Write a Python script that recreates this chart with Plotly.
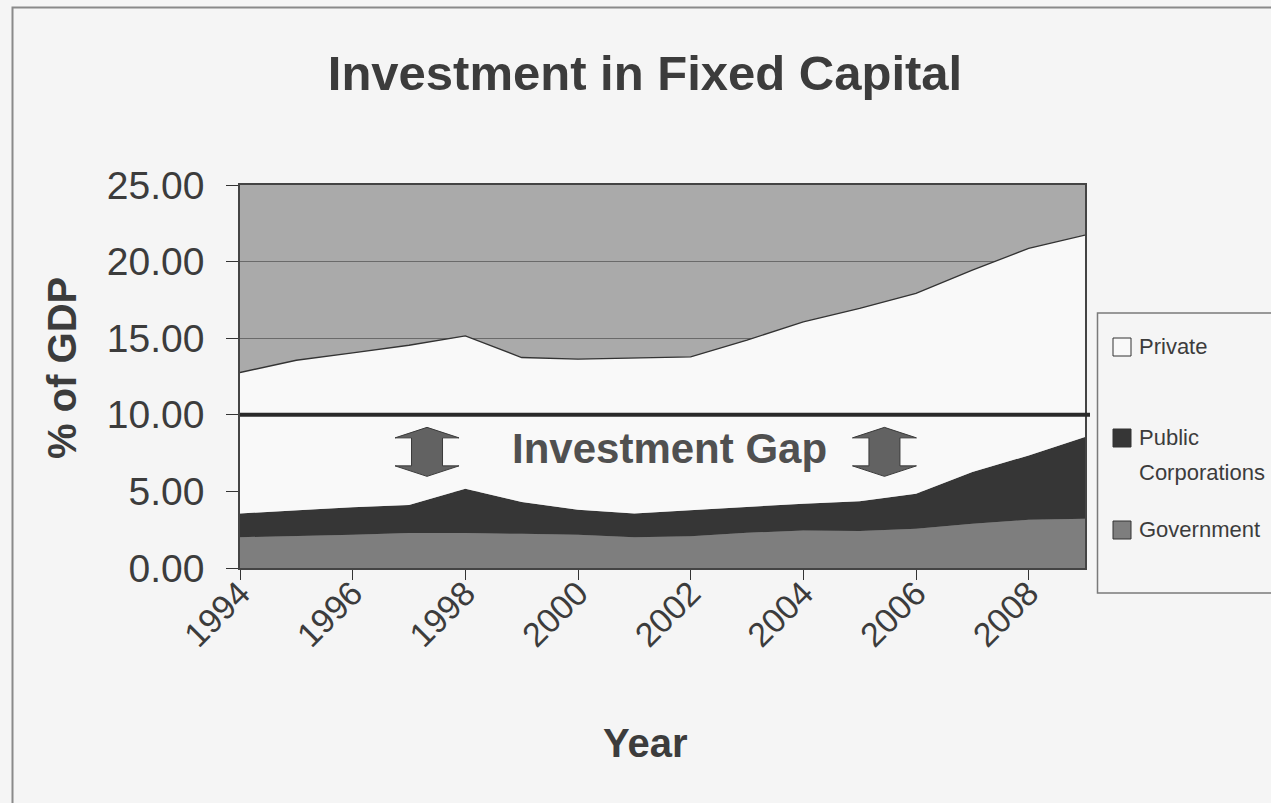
import plotly.graph_objects as go

# Investment in fixed capital, % of GDP, by sector
years = list(range(1994, 2010))
government = [2.01, 2.08, 2.17, 2.28, 2.28, 2.23, 2.17, 2.01, 2.08, 2.30, 2.45, 2.41, 2.56, 2.89, 3.15, 3.21]
public_corporations = [1.55, 1.68, 1.80, 1.84, 2.90, 2.07, 1.63, 1.55, 1.70, 1.70, 1.75, 1.94, 2.29, 3.37, 4.20, 5.34]
private = [9.20, 9.80, 10.07, 10.42, 9.97, 9.44, 9.83, 10.15, 10.00, 10.87, 11.87, 12.59, 13.07, 13.18, 13.51, 13.18]

tick_years = [1994, 1996, 1998, 2000, 2002, 2004, 2006, 2008]
y_ticks = [0, 5, 10, 15, 20, 25]
gap_level = 10.0
gap_label = "Investment Gap"
arrow_years = [1997.32, 2005.44]
arrow_mid = 7.58

# figure geometry
W, H = 1271, 803
L, R, T, B = 240, 186, 185, 235
PW, PH = W - L - R, H - T - B

FONT = "Liberation Sans, Arial, sans-serif"
TEXT = "#3c3c3c"
PAGE_BG = "#f5f5f5"
PLOT_BG = "#aaaaaa"
GOV_C = "#7e7e7e"
PUB_C = "#363636"
PRIV_C = "#f9f9f9"


def px_x(px):
    return (px - L) / PW


def px_y(py):
    return (H - B - py) / PH


fig = go.Figure()
fig.add_trace(go.Scatter(x=years, y=government, name="Government", stackgroup="one",
                         mode="lines", line=dict(width=0, color=GOV_C), fillcolor=GOV_C))
fig.add_trace(go.Scatter(x=years, y=public_corporations, name="Public Corporations", stackgroup="one",
                         mode="lines", line=dict(width=0, color=PUB_C), fillcolor=PUB_C))
fig.add_trace(go.Scatter(x=years, y=private, name="Private", stackgroup="one",
                         mode="lines", line=dict(width=1.3, color="#333333"), fillcolor=PRIV_C))

shapes = []
# target investment level line
shapes.append(dict(type="line", xref="paper", yref="y", x0=0, x1=px_x(1090),
                   y0=gap_level, y1=gap_level, line=dict(color="#2a2a2a", width=4), layer="above"))
# double-headed gap arrows
arrow_path = ("M -32 14 L 0 24.5 L 32 14 L 15.5 14 L 15.5 -14 L 32 -14 "
              "L 0 -24.5 L -32 -14 L -15.5 -14 L -15.5 14 Z")
for ay in arrow_years:
    shapes.append(dict(type="path", xref="x", yref="y", xsizemode="pixel", ysizemode="pixel",
                       xanchor=ay, yanchor=arrow_mid, path=arrow_path,
                       fillcolor="#626262", line=dict(color="#3a3a3a", width=1), layer="above"))
# outer chart frame
shapes.append(dict(type="rect", xref="paper", yref="paper",
                   x0=px_x(12.5), x1=px_x(1300), y0=px_y(7.5), y1=px_y(830),
                   line=dict(color="#8a8a8a", width=2), fillcolor="rgba(0,0,0,0)"))
# legend frame and swatches
shapes.append(dict(type="rect", xref="paper", yref="paper",
                   x0=px_x(1097.5), x1=px_x(1300), y0=px_y(313), y1=px_y(593),
                   line=dict(color="#7a7a7a", width=1.5), fillcolor="rgba(0,0,0,0)"))
legend_items = [
    (["Private"], PRIV_C, 346),
    (["Public", "Corporations"], PUB_C, 437),
    (["Government"], GOV_C, 529),
]
annotations = []
for lines, color, cy in legend_items:
    shapes.append(dict(type="rect", xref="paper", yref="paper",
                       x0=px_x(1113), x1=px_x(1131), y0=px_y(cy + 10), y1=px_y(cy - 8),
                       fillcolor=color, line=dict(color="#333333", width=1)))
    for i, line in enumerate(lines):
        annotations.append(dict(xref="paper", yref="paper", x=px_x(1137), y=px_y(cy + i * 35),
                                xanchor="left", yanchor="middle", text=line, showarrow=False,
                                font=dict(family=FONT, size=22, color=TEXT)))

annotations.append(dict(xref="x", yref="y", x=2001.62, y=7.81, text=f"<b>{gap_label}</b>",
                        showarrow=False, xanchor="center", yanchor="middle",
                        font=dict(family=FONT, size=42, color="#505050")))
# axis titles
annotations.append(dict(xref="paper", yref="paper", x=px_x(645), y=px_y(743), text="<b>Year</b>",
                        showarrow=False, xanchor="center", yanchor="middle",
                        font=dict(family=FONT, size=40, color=TEXT)))
annotations.append(dict(xref="paper", yref="paper", x=px_x(62), y=px_y(368), text="<b>% of GDP</b>",
                        showarrow=False, xanchor="center", yanchor="middle", textangle=-90,
                        font=dict(family=FONT, size=40, color=TEXT)))

fig.update_layout(
    width=W, height=H,
    margin=dict(l=L, r=R, t=T, b=B),
    paper_bgcolor=PAGE_BG,
    plot_bgcolor=PLOT_BG,
    showlegend=False,
    title=dict(text="<b>Investment in Fixed Capital</b>", x=645 / W, xanchor="center",
               y=1 - 73 / H, yanchor="middle", yref="container",
               font=dict(family=FONT, size=49, color=TEXT)),
    xaxis=dict(range=[1994, 2009], tickvals=tick_years, ticktext=[str(t) for t in tick_years],
               tickangle=-45, ticks="outside", ticklen=10, tickcolor="#333",
               showgrid=False, zeroline=False, showline=True, linecolor="#444", linewidth=1.5,
               mirror=True, ticklabelstandoff=-20,
               tickfont=dict(family=FONT, size=34, color=TEXT)),
    yaxis=dict(range=[0, 25], tickvals=y_ticks, tickformat=".2f",
               ticks="outside", ticklen=12, tickcolor="#333",
               showgrid=True, gridcolor="#6a6a6a", gridwidth=1, zeroline=False,
               showline=True, linecolor="#444", linewidth=1.5, mirror=True,
               ticklabelstandoff=14,
               tickfont=dict(family=FONT, size=39, color=TEXT)),
    shapes=shapes,
    annotations=annotations,
)

fig.write_html("out.html")
